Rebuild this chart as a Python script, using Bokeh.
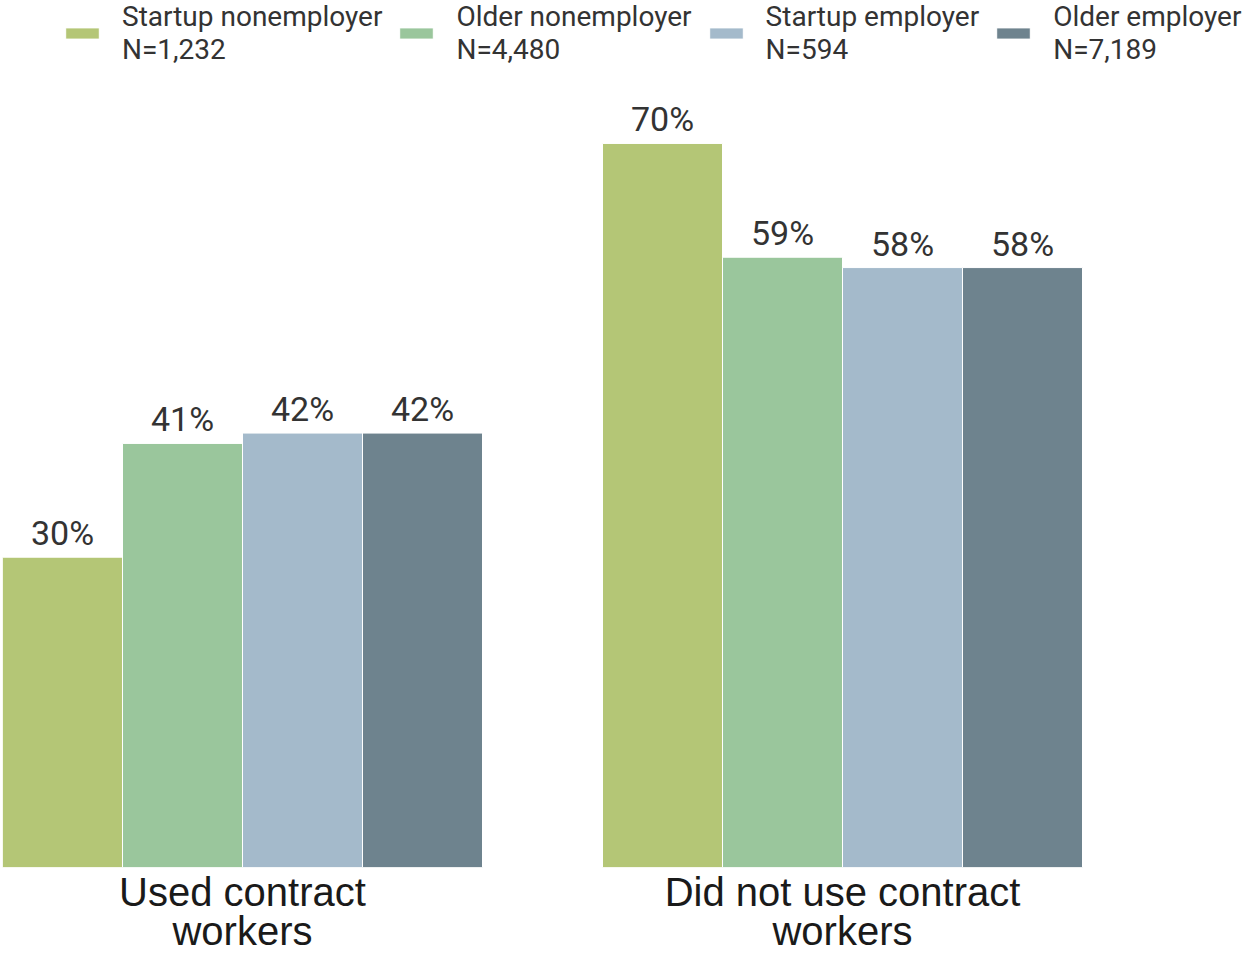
from bokeh.plotting import figure
from bokeh.models import Range1d, ColumnDataSource, LabelSet, Legend, LegendItem, FixedTicker
from bokeh.core.properties import value
from bokeh.embed import file_html
from bokeh.resources import INLINE

categories = ["Used contract\nworkers", "Did not use contract\nworkers"]
series = ["Startup nonemployer", "Older nonemployer", "Startup employer", "Older employer"]
series_n = ["N=1,232", "N=4,480", "N=594", "N=7,189"]
used = [30, 41, 42, 42]
not_used = [70, 59, 58, 58]
colors = ["#B4C676", "#9AC69C", "#A4BACB", "#6E838E"]

n = len(series)
slot = n + 1                      # one empty bar-width between groups
group_pos = [g * slot for g in range(len(categories))]
centers = [gp + n / 2 for gp in group_pos]

FRAME_W, FRAME_H = 1240, 867
BAR_PX = 120
p = figure(x_range=Range1d(0, FRAME_W / BAR_PX), y_range=Range1d(0, 83.82),
           frame_width=FRAME_W, frame_height=FRAME_H,
           min_border_left=2, min_border_right=0, min_border_top=0, min_border_bottom=86,
           output_backend="svg", toolbar_location=None)
p.outline_line_color = None
p.xgrid.visible = False
p.ygrid.visible = False
p.yaxis.visible = False

items = []
for i, s in enumerate(series):
    vals = [used[i], not_used[i]]
    src = ColumnDataSource(dict(x=[gp + i + 0.5 for gp in group_pos], top=vals,
                                lab=[f"{v}%" for v in vals]))
    r = p.vbar(x="x", top="top", width=1.0, source=src, fill_color=colors[i],
               line_color="white", line_width=1)
    items.append(LegendItem(label=s + "\n" + series_n[i], renderers=[r]))
    p.add_layout(LabelSet(x="x", y="top", text="lab", source=src, text_align="center",
                          text_baseline="alphabetic", y_offset=12, text_font=value("Roboto"),
                          text_font_size="34px", text_color="#333333"))

LEG_H = 66
legend = Legend(items=items, orientation="horizontal", location=(59, FRAME_H - LEG_H),
                glyph_width=42, glyph_height=14, label_standoff=19, spacing=13,
                padding=0, margin=0, border_line_color=None, background_fill_alpha=0,
                label_text_font="Roboto", label_text_font_size="28px",
                label_text_color="#333333", label_text_line_height=0.86)
p.add_layout(legend, "center")

ax = p.xaxis[0]
ax.ticker = FixedTicker(ticks=centers)
ax.major_label_overrides = {c: lab for c, lab in zip(centers, categories)}
ax.axis_line_color = None
ax.major_tick_line_color = None
ax.minor_tick_line_color = None
ax.major_label_standoff = -4
ax.major_label_text_font = "Liberation Sans"
ax.major_label_text_font_size = "40px"
ax.major_label_text_color = "#1a1a1a"
ax.major_label_text_line_height = 0.9

open("out.html", "w").write(file_html(p, INLINE))
